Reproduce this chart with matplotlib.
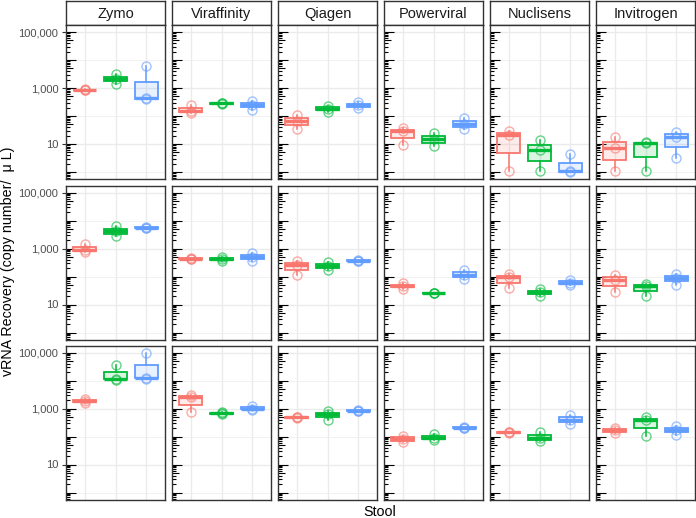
import numpy as np
import matplotlib.pyplot as plt
from matplotlib import cbook
from matplotlib.colors import to_rgb

plt.rcParams["font.family"] = ["Liberation Sans", "DejaVu Sans"]

methods = ["Zymo", "Viraffinity", "Qiagen", "Powerviral", "Nuclisens", "Invitrogen"]
colors = ["#F8766D", "#00BA38", "#619CFF"]

# log10 copy number / uL, three replicates per group
row1 = [
    [[2.93, 2.94, 2.95], [3.16, 3.32, 3.50], [2.60, 2.63, 3.77]],
    [[2.09, 2.19, 2.40], [2.43, 2.45, 2.47], [2.22, 2.41, 2.55]],
    [[1.55, 1.81, 2.02], [2.16, 2.26, 2.36], [2.27, 2.39, 2.50]],
    [[0.96, 1.45, 1.58], [0.93, 1.17, 1.38], [1.52, 1.72, 1.93]],
    [[0.02, 1.33, 1.45], [0.02, 0.80, 1.16], [0.00, 0.02, 0.63]],
    [[0.02, 0.86, 1.25], [0.02, 1.03, 1.07], [0.50, 1.26, 1.44]],
]
row2 = [
    [[2.88, 2.96, 3.17], [3.44, 3.62, 3.79], [3.74, 3.75, 3.76]],
    [[2.63, 2.64, 2.65], [2.56, 2.63, 2.71], [2.56, 2.69, 2.84]],
    [[2.07, 2.40, 2.54], [2.25, 2.38, 2.51], [2.55, 2.57, 2.59]],
    [[1.57, 1.65, 1.77], [1.40, 1.41, 1.42], [1.92, 2.07, 2.24]],
    [[1.58, 1.97, 2.08], [1.30, 1.43, 1.55], [1.71, 1.78, 1.88]],
    [[1.44, 1.89, 2.07], [1.30, 1.66, 1.74], [1.70, 1.96, 2.10]],
]
row3 = [
    [[3.18, 3.28, 3.35], [4.03, 4.07, 4.55], [4.06, 4.09, 5.00]],
    [[2.87, 3.40, 3.48], [2.80, 2.83, 2.88], [2.93, 3.00, 3.10]],
    [[2.66, 2.68, 2.70], [2.60, 2.80, 2.90], [2.90, 2.92, 2.96]],
    [[1.80, 1.91, 2.03], [1.86, 1.96, 2.08], [2.31, 2.32, 2.33]],
    [[2.12, 2.15, 2.17], [1.83, 1.95, 2.17], [2.45, 2.60, 2.78]],
    [[2.12, 2.23, 2.30], [2.02, 2.60, 2.68], [2.06, 2.23, 2.36]],
]
rows = [row1, row2, row3]

major_breaks = [10, 1000, 100000]
major_labels = ["10", "1,000", "100,000"]
minor_breaks = [1, 100, 10000]

W, H = 696, 518
fig = plt.figure(figsize=(W / 100, H / 100), dpi=100)

pw, ph = 99, 154
row_top = [25, 185.5, 345.5]
border = "#333333"
grid = "#EBEBEB"


def px_axes(left, top, w, h):
    return fig.add_axes([left / W, 1 - (top + h) / H, w / W, h / H])


for j, name in enumerate(methods):
    left = 66 + j * 106
    # strip
    sax = px_axes(left, 1, pw, 24)
    sax.set_xticks([])
    sax.set_yticks([])
    for sp in sax.spines.values():
        sp.set_color(border)
        sp.set_linewidth(1.0)
    sax.text(0.5, 0.47, name, ha="center", va="center", fontsize=10.5, color="#1A1A1A",
             transform=sax.transAxes)

    for i, row in enumerate(rows):
        ax = px_axes(left, row_top[i], pw, ph)
        ax.set_yscale("log")
        ax.set_ylim(10 ** -0.25, 10 ** 5.25)
        ax.set_xlim(0.4, 3.6)

        for b in major_breaks:
            ax.axhline(b, color=grid, lw=1.0, zorder=0)
        for b in minor_breaks:
            ax.axhline(b, color=grid, lw=0.5, zorder=0)
        for x in [1, 2, 3]:
            ax.axvline(x, color=grid, lw=1.0, zorder=0)

        # log ticks inside the panel
        ylo, yhi = ax.get_ylim()
        for k in range(-1, 6):
            for m in range(1, 10):
                v = m * 10.0 ** k
                if ylo <= v <= yhi:
                    ln = 0.10 if m == 1 else (0.07 if m == 5 else 0.04)
                    ax.plot([0, ln], [v, v], transform=ax.get_yaxis_transform(),
                            color="black", lw=0.8, zorder=1, solid_capstyle="butt")

        # box stats on the log scale (as ggplot does), then back to copies
        stats = cbook.boxplot_stats([np.array(g) for g in row[j]], whis=1.5)
        for s in stats:
            for key in ["med", "q1", "q3", "whislo", "whishi", "mean"]:
                s[key] = 10 ** s[key]
            s["fliers"] = []
        bp = ax.bxp(stats, positions=[1, 2, 3], widths=0.75, patch_artist=True,
                    showfliers=False, showcaps=False, zorder=2)
        for g, c in enumerate(colors):
            box = bp["boxes"][g]
            box.set_facecolor((*to_rgb(c), 0.14))
            box.set_edgecolor(c)
            box.set_linewidth(1.3)
            bp["medians"][g].set_color(c)
            bp["medians"][g].set_linewidth(2.4)
            for w in bp["whiskers"][2 * g:2 * g + 2]:
                w.set_color(c)
                w.set_linewidth(1.1)
            pts = 10 ** np.array(row[j][g])
            ax.plot([g + 1] * len(pts), pts, "o", mfc="none", mec=c,
                    ms=6.5, mew=1.0, alpha=0.6, zorder=3)

        ax.set_xticks([])
        ax.yaxis.set_minor_locator(plt.NullLocator())
        if j == 0:
            ax.set_yticks(major_breaks)
            ax.set_yticklabels(major_labels, fontsize=8, color="#4D4D4D")
            ax.tick_params(axis="y", length=3, width=0.8, color=border, pad=2.5)
        else:
            ax.set_yticks([])
        for sp in ax.spines.values():
            sp.set_color(border)
            sp.set_linewidth(1.0)
            sp.set_zorder(5)

fig.text(8 / W, 1 - 261 / H, "vRNA Recovery (copy number/  \u03bc L)", rotation=90,
         ha="center", va="center", fontsize=10.3)
fig.text(380 / W, 1 - 512 / H, "Stool", ha="center", va="center", fontsize=10.3)

fig.savefig("out.png", dpi=100)
